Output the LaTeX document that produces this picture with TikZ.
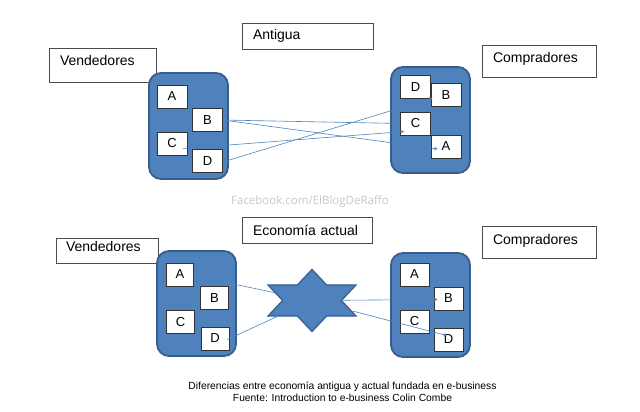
\documentclass[tikz,border=0pt]{standalone}
\usepackage{fontspec}
\setmainfont{Liberation Sans}
\newfontfamily\fbfont{Open Sans}
\usetikzlibrary{shapes.geometric, arrows, calc}
\definecolor{boxblue}{RGB}{79,129,189}
\definecolor{boxedge}{RGB}{56,93,138}
\tikzstyle{market} = [rectangle, rounded corners=12pt, minimum width=79pt, minimum height=106pt, draw=boxedge, line width=1.8pt, fill=boxblue]
\tikzstyle{agent} = [rectangle, minimum width=30pt, minimum height=23pt, inner sep=0pt, text centered, draw=black!80, line width=0.6pt, fill=white, font=\fontsize{13}{15}\selectfont]
\tikzstyle{label} = [rectangle, inner xsep=11pt, inner ysep=0pt, align=left, draw=black!70, line width=0.6pt, fill=white, font=\fontsize{14}{16}\selectfont]
\tikzstyle{link} = [line width=0.6pt, draw=boxblue]
\tikzstyle{arrow} = [line width=0.6pt, draw=boxblue, ->, >=stealth]

\begin{document}
\begin{tikzpicture}[x=1pt, y=-1pt]
\useasboundingbox (0,0) rectangle (640,412);

% Titles
\node[label, text width=109pt, minimum height=26pt] (titleOld) at (307.5,36) {Antigua};
\node[label, text width=108pt, minimum height=26pt] (titleNew) at (307,230) {Econom\'ia actual};
\node[label, text width=85pt, minimum height=34pt, text depth=9pt] (sellOld) at (102.5,65) {Vendedores};
\node[label, text width=92pt, minimum height=32pt, text depth=7pt] (buyOld) at (539,61) {Compradores};
\node[label, text width=82pt, inner xsep=10pt, minimum height=25pt, text depth=9pt] (sellNew) at (107,250.5) {Vendedores};
\node[label, text width=92pt, minimum height=32pt, text depth=5pt] (buyNew) at (539,242) {Compradores};

% Top - old market
\node (mktTL) [market] at (188.5,126) {};
\node (tlA) [agent] at (172,96.5) {A};
\node (tlB) [agent] at (207.5,120) {B};
\node (tlC) [agent] at (172,143.5) {C};
\node (tlD) [agent] at (207.5,161) {D};

\node (mktTR) [market] at (430.5,120) {};
\node (trD) [agent] at (415.5,87) {D};
\node (trB) [agent] at (446,95) {B};
\node (trC) [agent] at (415.5,123.5) {C};
\node (trA) [agent] at (446,146.5) {A};

% Bottom - e-business
\node (mktBL) [market, minimum height=105pt] at (196.5,303.5) {};
\node (blA) [agent, minimum width=27pt] at (180,274.5) {A};
\node (blB) [agent, minimum width=28pt] at (214.5,298) {B};
\node (blC) [agent, minimum width=28pt] at (180.5,322) {C};
\node (blD) [agent, minimum width=28pt] at (215,338.5) {D};

\node (mktBR) [market, minimum height=104pt] at (430.5,305) {};
\node (brA) [agent, minimum width=29pt] at (414.5,274.5) {A};
\node (brB) [agent, minimum width=29pt] at (448.5,298.5) {B};
\node (brC) [agent, minimum width=29pt] at (414.5,321.5) {C};
\node (brD) [agent, minimum width=29pt] at (448.5,339.5) {D};

\node (hub) [star, star points=6, star point ratio=1.73, minimum size=62pt, inner sep=0pt, xscale=1.64, transform shape, draw=boxedge, line width=1.2pt, fill=boxblue] at (312,300.5) {};

% Top - arrows
\draw [link] (tlB.east) -- (trC.west);
\draw [arrow] (tlB.east) -- ($(trA.west)+(7,2.5)$);
\draw [arrow] ($(tlC.east)+(-4,5)$) -- ($(trC.west)+(4,8)$);
\draw [arrow] ($(tlD.east)+(0,1)$) -- ($(trB.west)+(2,3)$);

% Bottom - arrows
\draw [link] ($(blA.east)+(-1,1)$) -- (hub);
\draw [link] ($(blD.east)+(-2,1)$) -- (hub);
\draw [arrow] (hub) -- ($(brB.west)+(4,1)$);
\draw [arrow] (hub) -- ($(brD.west)+(13,-4)$);

% Captions
\node[text=black!22, font=\fbfont\fontsize{11.5}{13}\selectfont] (fbNote) at (310,201) {Facebook.com/ElBlogDeRaffo};
\node[align=center, font=\fontsize{10.3}{11.8}\selectfont] (source) at (342.5,392) {Diferencias entre econom\'ia antigua y actual fundada en e-business\\Fuente: Introduction to e-business Colin Combe};

\end{tikzpicture}
\end{document}
